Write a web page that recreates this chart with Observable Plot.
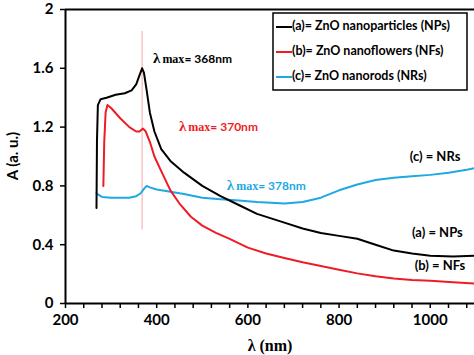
<!DOCTYPE html>
<html><head><meta charset="utf-8">
<script src="https://cdn.jsdelivr.net/npm/d3@7"></script>
<script src="https://cdn.jsdelivr.net/npm/@observablehq/plot@0.6"></script>
<style>body{margin:0;background:#fff}</style>
</head><body><div id="chart"></div>
<script>
// ---- data ----
const npWl  = [268,269,271,277,290,310,330,345,355,362,368,372,378,385,395,410,430,460,500,540,580,620,680,720,760,800,840,880,920,960,1000,1050,1097];
const npA   = [0.65,1.10,1.35,1.39,1.40,1.42,1.43,1.45,1.49,1.55,1.60,1.57,1.45,1.30,1.17,1.05,0.97,0.89,0.80,0.73,0.67,0.61,0.55,0.51,0.48,0.46,0.44,0.40,0.36,0.34,0.325,0.32,0.325];
const nfWl  = [283,285,288,292,300,320,340,355,362,370,376,385,395,410,430,450,475,500,530,560,600,640,680,720,760,800,840,880,920,960,1000,1050,1097];
const nfA   = [0.80,1.10,1.30,1.35,1.33,1.26,1.20,1.17,1.17,1.19,1.17,1.10,1.00,0.90,0.77,0.68,0.59,0.53,0.48,0.44,0.38,0.34,0.31,0.28,0.255,0.23,0.205,0.185,0.17,0.16,0.155,0.145,0.135];
const nrWl  = [268,272,280,300,320,340,355,365,372,378,385,400,430,460,500,540,580,620,680,720,760,800,840,880,920,960,1000,1040,1080,1097];
const nrA   = [0.75,0.74,0.725,0.72,0.72,0.72,0.73,0.75,0.78,0.80,0.79,0.775,0.76,0.745,0.72,0.71,0.70,0.69,0.68,0.69,0.72,0.77,0.81,0.84,0.855,0.865,0.875,0.89,0.91,0.92];
const seriesNames = ["(a)= ZnO nanoparticles (NPs)","(b)= ZnO nanoflowers (NFs)","(c)= ZnO nanorods (NRs)"];
const seriesColors = ["#000000","#ee1c24","#1fa8e1"];
const xTicks = [200,400,600,800,1000];
const yTicks = [0,0.4,0.8,1.2,1.6,2];
const lambdaMax = 368;
const peakLabels = ["368nm","370nm","378nm"];
const endLabels = ["(c) = NRs","(a) = NPs","(b) = NFs"];

const rows = [];
npWl.forEach((w,i)=>rows.push({s:0,w,a:npA[i]}));
nfWl.forEach((w,i)=>rows.push({s:1,w,a:nfA[i]}));
nrWl.forEach((w,i)=>rows.push({s:2,w,a:nrA[i]}));

const FONT = "Lato, 'Open Sans', sans-serif";
const plot = Plot.plot({
  width: 474, height: 355,
  marginLeft: 65, marginRight: 0, marginTop: 9, marginBottom: 52,
  style: {fontFamily: FONT, fontWeight: "bold", fontSize: "15px", color: "#000", background: "#fff", overflow: "visible"},
  x: {domain: [200, 1097]},
  y: {domain: [0, 2]},
  marks: [
    Plot.ruleX([lambdaMax], {y1: 0.5, y2: 1.85, stroke: "#f3a9a9", strokeWidth: 1}),
    Plot.line(rows.filter(d=>d.s===2), {x:"w", y:"a", stroke: seriesColors[2], strokeWidth: 2}),
    Plot.line(rows.filter(d=>d.s===1), {x:"w", y:"a", stroke: seriesColors[1], strokeWidth: 2}),
    Plot.line(rows.filter(d=>d.s===0), {x:"w", y:"a", stroke: seriesColors[0], strokeWidth: 2}),
    Plot.axisX({ticks: d3.range(200, 1097, 40), tickSize: 5, strokeWidth: 1.5, tickFormat: () => "", label: null}),
    Plot.axisX({ticks: xTicks, tickSize: 0, tickPadding: 11, label: null, fontSize: 15, tickFormat: d => String(d)}),
    Plot.axisY({ticks: yTicks, tickSize: 5, tickPadding: 7, strokeWidth: 1.5, tickFormat: d => String(d), label: null, fontSize: 15}),
    Plot.ruleY([0, 2], {stroke: "#000", strokeWidth: 2}),
    Plot.ruleX([200], {stroke: "#000", strokeWidth: 2})
  ]
});
document.getElementById("chart").appendChild(plot);

const svg = d3.select(plot);
const sx = plot.scale("x"), sy = plot.scale("y");
const X = v => sx.apply(v), Y = v => sy.apply(v);

// axis titles
svg.append("text").attr("x", 270).attr("y", 351)
  .attr("text-anchor", "middle").attr("font-family", "'Liberation Serif', serif")
  .attr("font-weight", "bold").attr("font-size", 16).text("λ (nm)");
svg.append("text").attr("transform", `translate(18,${(Y(0)+Y(2))/2}) rotate(-90)`)
  .attr("text-anchor", "middle").attr("font-family", FONT)
  .attr("font-weight", "bold").attr("font-size", 15).text("A (a. u.)");

// peak annotations
const peakPos = [[393, 1.65, "#000"], [450, 1.19, "#ee1c24"], [555, 0.79, "#1fa8e1"]];
peakPos.forEach(([px, py, c], i) => {
  const t = svg.append("text").attr("x", X(px)).attr("y", Y(py)).attr("fill", c)
    .attr("text-anchor", "start")
    .attr("dominant-baseline", "middle").attr("font-size", 12).attr("font-weight", "bold");
  t.append("tspan").attr("font-family", "'Liberation Serif', serif").attr("font-size", 15).text("λ");
  t.append("tspan").attr("font-family", "'Liberation Serif', serif").attr("font-size", 12).attr("dx", 2).text("max");
  t.append("tspan").attr("font-family", FONT).text("= " + peakLabels[i]);
});

// end labels
const endPos = [[956, 0.99], [961, 0.47], [967, 0.25]];
endPos.forEach(([px, py], i) => {
  svg.append("text").attr("x", X(px)).attr("y", Y(py)).attr("dominant-baseline", "middle")
    .attr("text-anchor", "start")
    .attr("font-family", FONT).attr("font-weight", "bold").attr("font-size", 13).text(endLabels[i]);
});

// legend
const lg = svg.append("g");
lg.append("rect").attr("x", 273).attr("y", 13).attr("width", 194).attr("height", 77)
  .attr("fill", "#fff").attr("stroke", "#000").attr("stroke-width", 1.5);
seriesNames.forEach((n, i) => {
  const yy = 27 + i * 25;
  lg.append("line").attr("x1", 276).attr("x2", 292).attr("y1", yy).attr("y2", yy)
    .attr("stroke", seriesColors[i]).attr("stroke-width", 2);
  lg.append("text").attr("x", 292).attr("y", yy).attr("dominant-baseline", "middle")
    .attr("text-anchor", "start")
    .attr("font-family", FONT).attr("font-weight", "bold").attr("font-size", 12.5).text(n);
});
</script></body></html>
